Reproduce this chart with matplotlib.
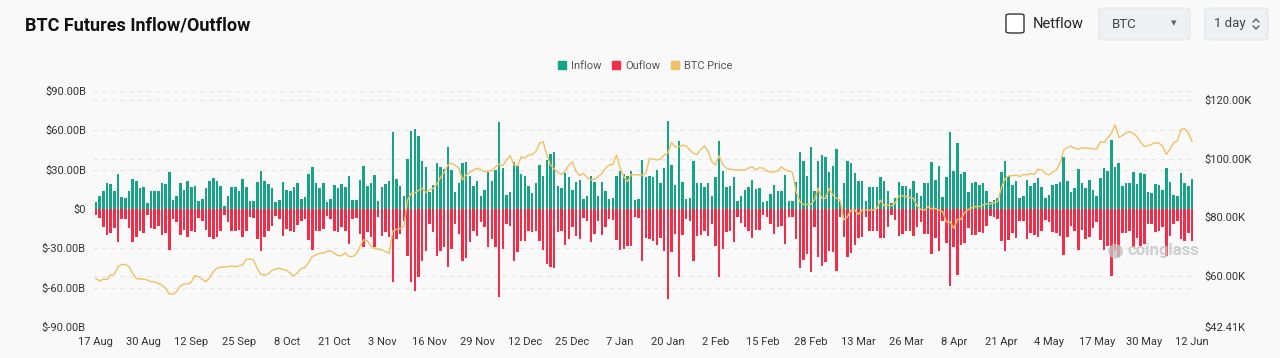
import numpy as np
import matplotlib.pyplot as plt
from matplotlib.patches import FancyBboxPatch, Patch
from matplotlib.lines import Line2D
from matplotlib.ticker import FuncFormatter

plt.rcParams['font.family'] = ['Roboto', 'DejaVu Sans']

# daily values, 17 Aug 2024 .. 12 Jun 2025
tick_labels = ['17 Aug', '30 Aug', '12 Sep', '25 Sep', '8 Oct', '21 Oct', '3 Nov', '16 Nov',
               '29 Nov', '12 Dec', '25 Dec', '7 Jan', '20 Jan', '2 Feb', '15 Feb', '28 Feb',
               '13 Mar', '26 Mar', '8 Apr', '21 Apr', '4 May', '17 May', '30 May', '12 Jun']

# futures inflow, billions USD
inflow = [5, 9.7, 14, 20, 19, 14, 27, 9, 8.4, 13.5, 23, 21.6, 15.7, 17, 4.3, 13.5, 13.5, 14, 20, 19,
          28.5, 7, 9.7, 20, 14.7, 21, 16.5, 17.8, 6.4, 8, 15.7, 21.6, 23.4, 21.6, 17.3, 2.5, 10, 16.5,
          16.5, 14, 22.9, 17, 6.4, 5.8, 20.8, 29.2, 21.6, 19, 16, 5.1, 6.9, 20.3, 14.5, 14, 16.5, 19.6,
          7.6, 8.9, 26.7, 31.8, 19.8, 16, 19.6, 5.1, 7.6, 18.5, 16, 19, 16.5, 24.9, 6.9, 6.9, 22.1, 32.5,
          17.8, 19.8,
          26.2, 6.4, 16.5, 19, 21.6, 58.5, 22.9, 17.8, 9.7, 38.1, 59.2, 61, 55.9, 36.9, 31.8, 12.7, 18.3,
          34.8, 32.3, 30.5, 47, 29.7, 13.2, 19.6, 35.1, 36.1, 25.4, 17.8, 21.1, 10.2, 14.5, 28, 21.6, 30,
          66, 31, 10.7, 12.7, 35.6,
          33, 26.7, 24.9, 17.8, 12.2, 19.6, 33.6, 24.9, 37.4, 41.9, 43.2, 17.3, 15.8, 27.2, 24.1, 14.5,
          20.8, 22.4, 7.6, 9.7, 25.4, 20.3, 10.2, 20.8, 13.5, 7.6, 8.4, 25.4, 28.7, 26.7, 25.4, 28.7, 6.6,
          7.6, 37.4, 24.1, 25.4, 24.1,
          29.7, 19.8, 31.3, 67.4, 33.6, 18.3, 51.6, 20.3, 7.6, 8.1, 36.4, 19.8, 19.8, 16.5, 19.8, 9.7,
          24.7, 51.6, 28.7, 17, 17.8, 24.1, 6.4, 10.2, 14.5, 17, 22.1, 15.3, 15.8, 5.1, 6.4, 11.4, 18.3,
          14, 14, 26.2, 6.4, 6.4,
          20.3, 43.2, 36.4, 24.9, 47, 14, 36.9, 41.4, 39.9, 28, 33, 45.8, 6.4, 19.6, 36.4, 34.8, 27.5,
          21.1, 21.1, 6.4, 16.5, 16.5, 16.5, 24.1, 21.6, 13.5, 4.6, 8.4, 20.8, 17.3, 17.8, 15.3, 21.1,
          12.2, 10.2, 19.8, 19.8, 35.6,
          22.4, 33, 8.9, 24.1, 59, 28.7, 50.3, 26.7, 28, 12.7, 19.6, 20.3, 18.5, 19.8, 13.5, 5.1, 7.1, 8.4,
          28, 36.4, 25.4, 18.5, 21.6, 8.1, 9.7, 22.4, 17.8, 19.8, 23.4, 16.5, 8.4, 10.7, 18.5, 19, 20.8,
          39.4, 21.1, 12.7,
          16, 30.5, 20.1, 16, 22.4, 14.5, 10.2, 23.4, 31, 29.2, 52.6, 31.8, 34.8, 17.8, 19.6, 19.6, 28.5,
          19, 27.2, 26.7, 12.7, 11.9, 19, 18.3, 14.5, 31, 20.3, 10.9, 9.7, 27.2, 19.6, 17.3, 22.9]

# futures outflow, billions USD (drawn below zero)
outflow = [4.6, 7, 14, 20, 18, 14.5, 25, 8, 7.6, 14.7, 25, 21.6, 16.5, 18, 4.3, 14.5, 15, 12.7, 20, 18,
           31, 7.6, 10, 20, 15.7, 21.6, 16.5, 17.8, 6.9, 9, 15.7, 21.6, 23, 21, 16.5, 4.6, 9.7, 16.5,
           16.5, 15.7, 21.6, 16.5, 5.8, 7.1, 22.9, 32.3, 21.6, 16.5, 12.7, 5.1, 7.6, 20.3, 15.3, 16.5,
           17.8, 12, 8.9, 7.6, 23.4, 31.3, 16.5, 17, 15, 5.1, 7.6, 16.5, 17.8, 14, 17, 26.7, 7.6, 6.9,
           19, 29.2, 17.8, 21.6,
           29.2, 6.4, 20.3, 17.8, 21.6, 55.9, 22.9, 19, 8.9, 35.6, 55.9, 62.3, 52.1, 39.4, 31.8, 11.4,
           17.8, 35.6, 31.8, 29.2, 44.5, 30.5, 11.4, 19, 39.4, 37.6, 25.4, 16.5, 20.3, 10.2, 14, 29.2,
           22.9, 29.2, 66.9, 30.5, 11.4, 12.7, 39.4,
           33, 24.1, 24.7, 16.5, 17.8, 16.5, 24.7, 31, 41.9, 44.5, 45, 17.3, 16.5, 27.2, 22.9, 14, 20.3,
           22.9, 7.1, 8.9, 25.4, 19, 9.4, 19.6, 14, 7.6, 8.4, 23.4, 31, 30.5, 28.5, 28, 6.4, 7.1, 39.4,
           22.1, 22.9, 24.1,
           27.5, 22.1, 31.8, 68.6, 33, 19, 52.1, 19.6, 7.6, 8.9, 39.4, 20.8, 19.6, 16.5, 20.8, 11.4, 28,
           52.1, 30.5, 17.3, 16.5, 24.9, 6.4, 10.9, 14, 16.5, 22.1, 15.8, 15.8, 4.6, 5.8, 11.4, 19, 13.5,
           12.7, 26.7, 6.4, 6.4,
           22.9, 45.2, 38.6, 34.3, 48.3, 13.5, 36.9, 43.2, 40.7, 31.8, 32.5, 47, 6.4, 21.1, 36.4, 33.8,
           27.2, 22.1, 21.1, 6.4, 16.5, 17, 16.5, 22.1, 22.1, 13.5, 4.6, 8.4, 20.3, 19, 16.5, 16.5, 20.8,
           13.5, 10.2, 19, 19, 34.3,
           22.1, 31.8, 8.9, 26.2, 59, 29.2, 50.1, 27.2, 26.2, 14.5, 19.6, 19.8, 17.8, 18.5, 12.7, 5.1,
           6.4, 7.6, 24.1, 32.3, 23.4, 18.5, 22.1, 8.9, 9.4, 22.9, 18.3, 19.8, 21.6, 16.5, 8.4, 10.2,
           17.8, 18.3, 20.3, 34.8, 21.6, 12.7,
           16.5, 31, 16, 22.9, 21.1, 14.7, 9.7, 23.6, 31.3, 28, 50.8, 31.8, 36.9, 18.5, 18.5, 16.5, 29.2,
           22.1, 28, 26.7, 11.4, 11.4, 17.8, 16.5, 14, 35.6, 20.8, 11.4, 8.9, 22.9, 24.1, 18.5, 24.1]

# BTC price, thousands USD
btc_price = [59.0, 58.1, 58.8, 58.6, 60.2, 60.4, 63.0, 63.8, 63.8, 63.0, 60.8, 59.0, 58.8, 58.8, 58.5,
             57.9, 57.9, 57.3, 56.8, 55.6, 53.7, 53.7, 54.5, 56.4, 57.1, 57.1, 57.7, 60.0, 59.6, 58.7,
             57.9, 59.3, 61.3, 62.5, 62.8, 63.0, 63.0, 63.3,
             63.0, 63.3, 63.6, 65.5, 65.7, 65.3, 62.5, 60.4, 60.2, 60.5, 61.8, 62.2, 62.5, 62.1, 61.8,
             60.8, 59.8, 61.0, 62.5, 62.7, 64.4, 66.5, 67.0, 67.6, 67.6, 68.2, 68.5, 67.6, 66.8, 66.8,
             67.8, 66.5, 66.5, 67.3, 69.9, 72.2, 72.0, 70.0,
             69.3, 69.0, 68.7, 68.2, 67.6, 75.2, 75.8, 76.1, 76.7, 85.8, 88.1, 88.3, 89.1, 89.8, 88.4,
             89.3, 89.8, 91.2, 93.5, 95.3, 97.8, 98.4, 97.6, 96.7, 92.7, 94.4, 95.3, 96.1, 96.7, 96.1,
             95.5, 95.8, 95.8, 97.2, 98.1, 97.5, 99.5, 101.0, 97.8,
             97.5, 100.6, 100.1, 101.2, 101.4, 102.4, 105.2, 105.8, 101.2, 97.8, 96.4, 95.3, 94.6, 95.7,
             97.8, 98.9, 95.5, 94.1, 94.9, 93.5, 92.7, 92.9, 93.8, 94.9, 96.7, 97.8, 98.0, 101.2, 96.7,
             93.8, 92.1, 94.6, 94.4, 94.4, 94.4, 95.0, 100.0, 99.8,
             99.5, 99.8, 101.2, 101.8, 105.5, 104.0, 104.0, 104.6, 104.3, 102.9, 101.8, 101.4, 103.2,
             104.3, 102.4, 98.9, 97.8, 101.0, 97.8, 96.7, 96.3, 96.2, 96.1, 96.1, 96.1, 96.7, 97.2, 96.1,
             96.9, 96.7, 95.7, 95.3, 95.5, 95.7, 97.2, 96.1, 95.7, 95.3,
             88.7, 85.3, 84.3, 84.3, 84.3, 85.8, 89.8, 86.4, 86.4, 89.8, 87.5, 86.4, 85.8, 79.0, 80.1,
             82.4, 82.4, 80.9, 82.4, 82.4, 82.4, 82.4, 82.8, 85.8, 83.9, 84.0, 83.8, 84.7, 87.2, 87.2,
             87.0, 86.6, 86.4, 83.9, 82.6, 82.3, 83.5, 82.8,
             82.9, 82.4, 81.8, 78.2, 78.4, 76.1, 79.2, 79.3, 81.6, 82.6, 83.2, 83.6, 83.6, 84.1, 84.5,
             84.5, 84.9, 85.3, 90.0, 93.2, 94.1, 94.1, 94.4, 93.8, 94.6, 94.4, 94.9, 94.6, 96.4, 96.1,
             94.9, 94.4, 95.3, 96.1, 98.4, 103.0, 103.8, 104.2,
             103.5, 103.2, 103.6, 103.6, 103.5, 103.3, 103.2, 105.8, 105.5, 107.1, 108.6, 111.5, 107.3,
             107.8, 108.7, 109.2, 108.5, 107.5, 105.5, 104.1, 104.4, 104.9, 105.4, 105.3, 104.1, 101.4,
             103.3, 105.4, 106.0, 110.0, 110.2, 108.6, 105.8]

days = np.arange(len(inflow))
W, H = 1280, 358


def fx(x):
    return x / W


def fy(y):
    return 1 - y / H


fig = plt.figure(figsize=(W / 100, H / 100), dpi=100)
fig.patch.set_facecolor('#f9f9f9')
rect = [fx(93), fy(327), fx(1102), 236 / H]

# back axes only for the price gridlines
axg = fig.add_axes(rect, zorder=0)
axg.set_facecolor('#f9f9f9')
axg.set_ylim(42.41, 123.08)
axg.set_yticks([60, 80, 100, 120])
axg.grid(axis='y', linestyle=(0, (4, 4)), color='#e6e6e6', lw=0.8)
axg.set_xticks([])
axg.tick_params(left=False, labelleft=False)
for s in axg.spines.values():
    s.set_visible(False)

ax = fig.add_axes(rect, zorder=1)
ax.patch.set_alpha(0)
ax.grid(axis='y', linestyle=(0, (4, 4)), color='#e6e6e6', lw=0.8)
ax.set_axisbelow(True)
ax.bar(days, inflow, width=0.7, color='#16a386', zorder=2)
ax.bar(days, -np.array(outflow), width=0.7, color='#f22d4a', zorder=2)
ax.set_xlim(-0.8, 299.8)
ax.set_ylim(-90, 90)
ax.set_yticks(np.arange(-90, 91, 30))
ax.yaxis.set_major_formatter(FuncFormatter(lambda v, p: '$0' if v == 0 else f'${v:.2f}B'))
ax.set_xticks(np.arange(0, 300, 13))
ax.set_xticklabels(tick_labels)
ax.tick_params(length=0, labelsize=8, colors='#333333')
ax.tick_params(axis='x', pad=7)
ax.tick_params(axis='y', pad=5)
for s in ax.spines.values():
    s.set_visible(False)

ax2 = ax.twinx()
ax2.plot(days, btc_price, color='#f1c063', lw=1.0, zorder=3)
ax2.set_ylim(42.41, 123.08)
ax2.set_yticks([42.41, 60, 80, 100, 120])
ax2.yaxis.set_major_formatter(FuncFormatter(lambda v, p: f'${v:.2f}K'))
ax2.tick_params(length=0, labelsize=8, colors='#333333', pad=7)
for s in ax2.spines.values():
    s.set_visible(False)

# header
fig.text(fx(25), fy(25), 'BTC Futures Inflow/Outflow', fontsize=13, fontweight='bold',
         color='#111111', va='center', ha='left')

box = FancyBboxPatch((fx(1006), fy(33)), fx(18), 19 / H, boxstyle='round,pad=0,rounding_size=0.004',
                     transform=fig.transFigure, facecolor='white', edgecolor='#333333', lw=1.0)
fig.add_artist(box)
fig.text(fx(1033), fy(24), 'Netflow', fontsize=10.5, color='#222222', va='center', ha='left')

for x0, w in [(1099, 91), (1205, 63)]:
    b = FancyBboxPatch((fx(x0), fy(40)), fx(w), 32 / H, boxstyle='round,pad=0,rounding_size=0.005',
                       transform=fig.transFigure, facecolor='#eef0f3', edgecolor='#e3e6ea', lw=0.8)
    fig.add_artist(b)
fig.text(fx(1112), fy(24), 'BTC', fontsize=9.5, color='#444444', va='center', ha='left')
fig.text(fx(1174), fy(23), '▾', fontsize=8, color='#666666', va='center', ha='center')
fig.text(fx(1214), fy(24), '1 day', fontsize=9.5, color='#444444', va='center', ha='left')
for ys, sign in [(20, 1), (28, -1)]:
    fig.add_artist(Line2D([fx(1253), fx(1256), fx(1259)],
                          [fy(ys + 2 * sign), fy(ys - 1 * sign), fy(ys + 2 * sign)],
                          transform=fig.transFigure, color='#555555', lw=0.9))

# legend
handles = [Patch(color='#16a386'), Patch(color='#f22d4a'), Patch(color='#f1c063')]
fig.legend(handles, ['Inflow', 'Ouflow', 'BTC Price'], loc='center', bbox_to_anchor=(fx(645), fy(66)),
           ncol=3, frameon=False, handlelength=0.75, handleheight=0.8, columnspacing=1.0,
           handletextpad=0.4, fontsize=8, labelcolor='#555555')

# watermark
fig.text(fx(1115), fy(250), '●', fontsize=14, color='#c4c4c4', va='center', ha='center', alpha=0.8)
fig.text(fx(1127), fy(250), 'coinglass', fontsize=12, fontweight='bold', color='#c4c4c4',
         va='center', ha='left', alpha=0.8)

fig.savefig('out.png', dpi=100, facecolor=fig.get_facecolor())
